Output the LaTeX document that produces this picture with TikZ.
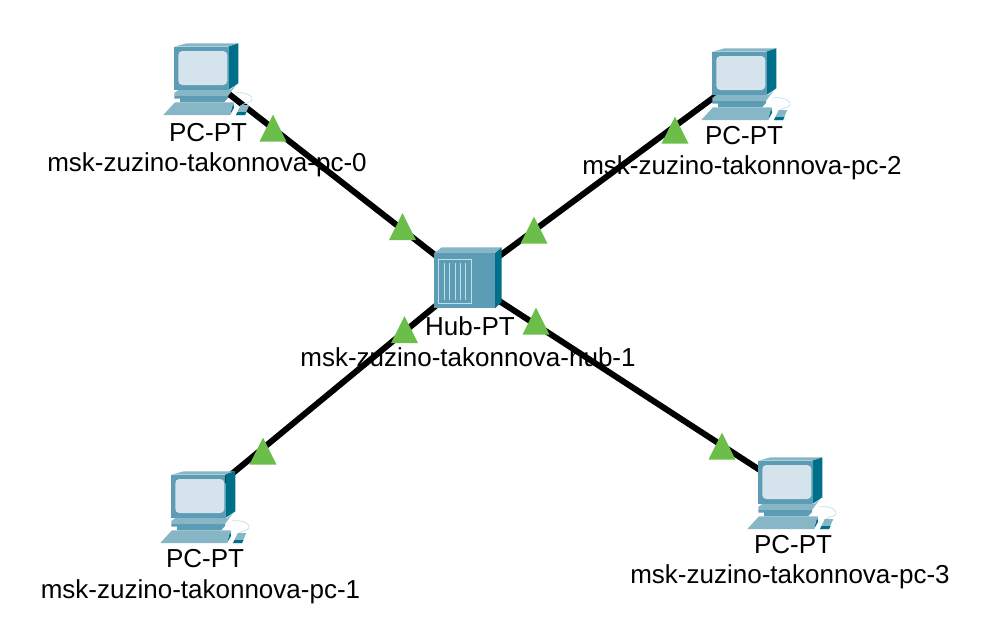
\documentclass[tikz,border=0pt]{standalone}
\usepackage{fontspec}
\setmainfont{Liberation Sans}
\usetikzlibrary{shapes.geometric}
\definecolor{ptfront}{RGB}{92,156,180}
\definecolor{pttop}{RGB}{135,182,198}
\definecolor{ptside}{RGB}{0,111,138}
\definecolor{ptscreen}{RGB}{213,228,236}
\definecolor{ptline}{RGB}{190,224,232}
\definecolor{ptgreen}{RGB}{108,190,75}
\tikzset{
  devpoint/.style={inner sep=0pt,minimum size=0pt},
  link/.style={line width=6pt,color=black},
  linkup/.style={draw=none,fill=ptgreen,isosceles triangle,isosceles triangle stretches,
    shape border rotate=90,inner sep=0pt,minimum width=27pt,minimum height=27pt,anchor=apex},
  devlabel/.style={font=\fontsize{26}{26}\selectfont,inner sep=0pt},
  pcicon/.pic={
    % monitor
    \fill[pttop] (-27.7,-26.3) -- (-15.3,-29.7) -- (36.3,-29.7) -- (26.3,-26.3) -- cycle;
    \fill[ptside] (26.3,-26.3) -- (36.3,-29.7) -- (36.3,10.3) -- (26.3,17) -- cycle;
    \fill[ptfront] (-27.7,-26.3) rectangle (26.3,17);
    \fill[ptscreen,rounded corners=4pt] (-23.7,-22) rectangle (25.3,12);
    % base
    \fill[pttop] (-27.7,20) -- (-23.7,17) -- (28,17) -- (34,12) -- (26,23) -- (-27.7,23) -- cycle;
    \fill[ptfront] (-27.7,23) -- (26,23) -- (26,25) -- (22,29.3) -- (-22,29.3) -- (-22,25.5) -- (-27.7,25.5) -- cycle;
    % keyboard
    \fill[ptside] (28,42) -- (31.3,29.3) -- (32,35) -- cycle;
    \fill[pttop] (-38.7,42) -- (-27,29.3) -- (31.3,29.3) -- (28,42) -- cycle;
    % mouse
    \draw[ptline,line width=0.7pt] (33,20) .. controls (44,18) and (52,24) .. (50,27) .. controls (48,30) and (42,30) .. (40,32);
    \fill[pttop] (34,42) -- (38.7,32) -- (47.3,32) -- (43,42) -- cycle;
    \fill[ptside] (34,42) -- (35.5,39) -- (44.5,39) -- (43,42) -- cycle;
  },
  hubicon/.pic={
    \fill[pttop] (-33,-26.7) -- (-25.3,-32.7) -- (34.7,-32.7) -- (28,-26.7) -- cycle;
    \fill[ptside] (28,-26.7) -- (34.7,-32.7) -- (34.7,21.7) -- (28,28.3) -- cycle;
    \fill[ptfront] (-33,-26.7) rectangle (28,28.3);
    \draw[ptline,line width=0.8pt] (-28.7,-21) rectangle (4.7,23.7);
    \foreach \stripex in {-23,-17.7,-12,-7,-2}
      \draw[ptline,line width=0.8pt] (\stripex,-16.7) -- (\stripex,20);
  },
}

\begin{document}
\begin{tikzpicture}[x=1pt,y=-1pt]
\useasboundingbox (0,0) rectangle (990,625);

% Device positions
\node[devpoint] (hub) at (467,280) {};
\node[devpoint] (pc0) at (202,73) {};
\node[devpoint] (pc1) at (199,501) {};
\node[devpoint] (pc2) at (740,78) {};
\node[devpoint] (pc3) at (786,487) {};

% Links
\draw[link] (pc0) -- (hub);
\draw[link] (pc1) -- (hub);
\draw[link] (pc2) -- (hub);
\draw[link] (pc3) -- (hub);

% Icons
\pic at (pc0) {pcicon};
\pic at (pc1) {pcicon};
\pic at (pc2) {pcicon};
\pic at (pc3) {pcicon};
\pic at (hub) {hubicon};

% Link lights
\node[linkup] (up0a) at (273,114) {};
\node[linkup] (up0b) at (402.5,212.5) {};
\node[linkup] (up2a) at (675,116) {};
\node[linkup] (up2b) at (534,216) {};
\node[linkup] (up1a) at (404.5,315.5) {};
\node[linkup] (up1b) at (263,437) {};
\node[linkup] (up3a) at (536,307) {};
\node[linkup] (up3b) at (722,432) {};

% Labels
\node[devlabel] (pc0type) at (208,133) {PC-PT};
\node[devlabel] (pc0name) at (207,165) {msk-zuzino-takonnova-pc-0};
\node[devlabel] (pc2type) at (744,136) {PC-PT};
\node[devlabel] (pc2name) at (742,168) {msk-zuzino-takonnova-pc-2};
\node[devlabel] (pc1type) at (205,559) {PC-PT};
\node[devlabel] (pc1name) at (200.5,592) {msk-zuzino-takonnova-pc-1};
\node[devlabel] (pc3type) at (793,545) {PC-PT};
\node[devlabel] (pc3name) at (790,577) {msk-zuzino-takonnova-pc-3};
\node[devlabel] (hubtype) at (470,326) {Hub-PT};
\node[devlabel] (hubname) at (468,357) {msk-zuzino-takonnova-hub-1};
\end{tikzpicture}
\end{document}
